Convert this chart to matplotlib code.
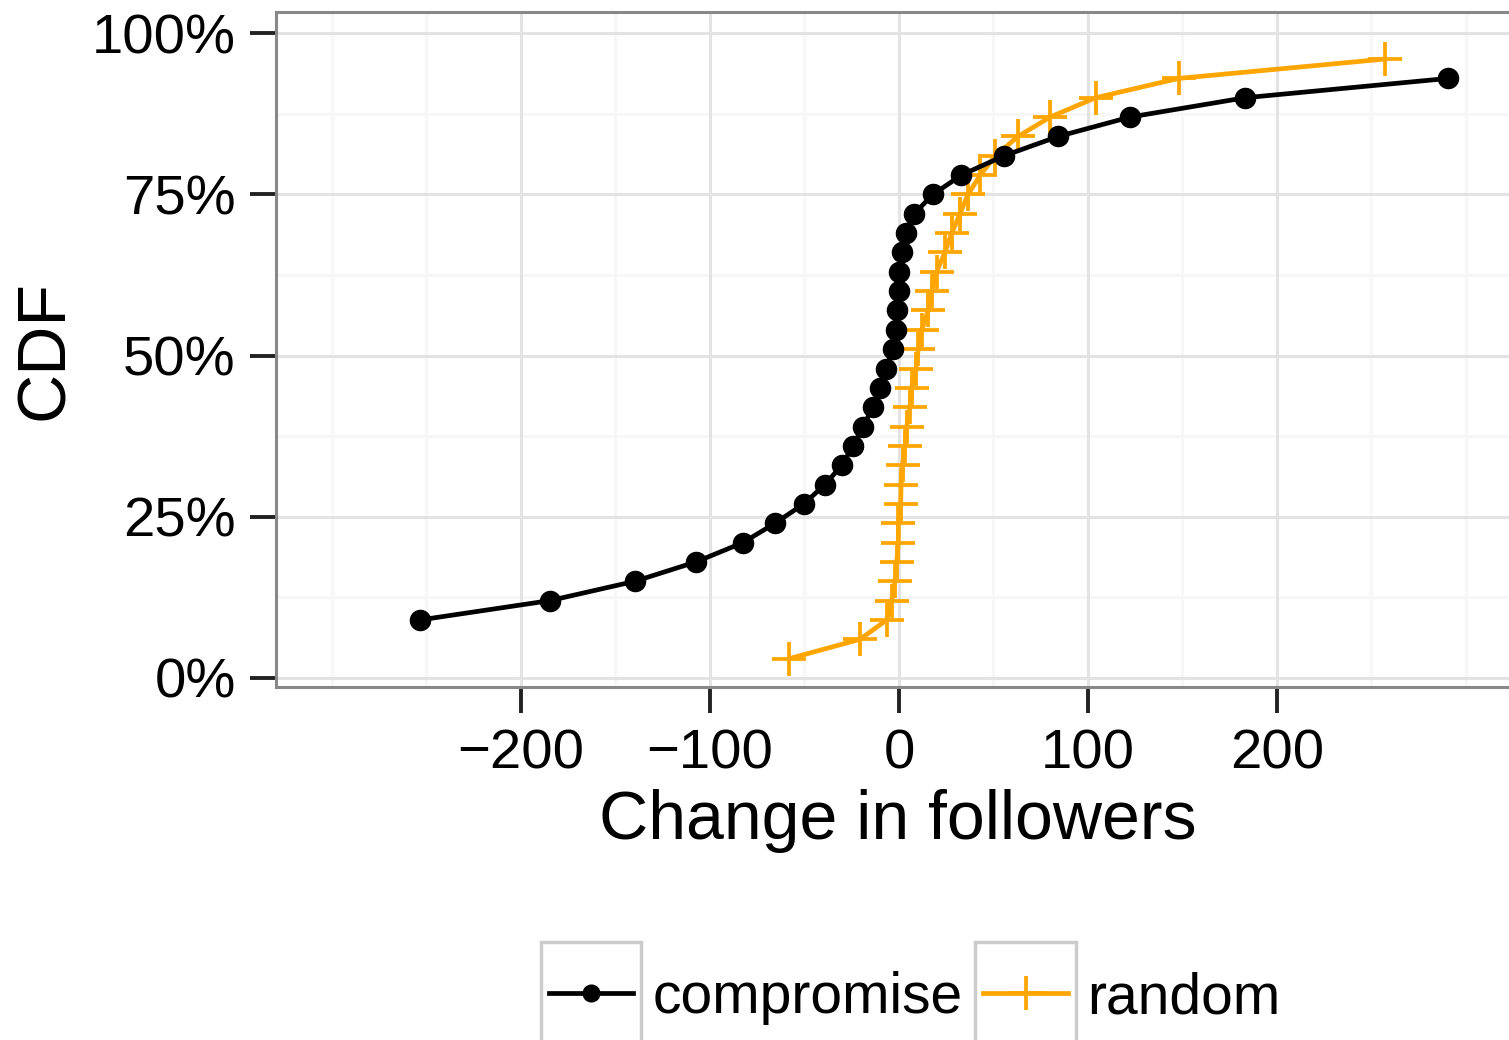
import matplotlib
matplotlib.use("Agg")
import matplotlib.pyplot as plt
from matplotlib.patches import Rectangle
from matplotlib.lines import Line2D
from matplotlib.ticker import FixedLocator, FuncFormatter

plt.rcParams['font.family'] = ['Liberation Sans', 'DejaVu Sans']

# ---- data ----
compromise_x = [-253.4, -184.7, -139.7, -107.4, -82.5, -65.6, -50.3, -39.2, -30.2,
                -24.3, -19.0, -13.8, -10.1, -6.9, -3.2, -1.6, -1.1, 0.0, 0.0, 1.6,
                3.5, 8.0, 18.0, 33.0, 55.6, 84.3, 122.2, 183.1, 290.6]
compromise_y = [0.09, 0.12, 0.15, 0.18, 0.21, 0.24, 0.27, 0.30, 0.33, 0.36, 0.39,
                0.42, 0.45, 0.48, 0.51, 0.54, 0.57, 0.60, 0.63, 0.66, 0.69, 0.72,
                0.75, 0.78, 0.81, 0.84, 0.87, 0.90, 0.93]
random_x = [-58.0, -20.6, -6.5, -3.9, -2.1, -1.2, -0.3, -0.3, 0.9, 1.1, 1.9, 3.2,
            4.1, 5.8, 6.7, 9.0, 10.2, 12.0, 15.5, 17.3, 19.9, 24.3, 27.9, 32.3,
            36.5, 43.0, 51.0, 63.0, 80.0, 104.0, 148.0, 257.0]
random_y = [0.03, 0.06, 0.09, 0.12, 0.15, 0.18, 0.21, 0.24, 0.27, 0.30, 0.33, 0.36,
            0.39, 0.42, 0.45, 0.48, 0.51, 0.54, 0.57, 0.60, 0.63, 0.66, 0.69, 0.72,
            0.75, 0.78, 0.81, 0.84, 0.87, 0.90, 0.93, 0.96]
x_major = [-200, -100, 0, 100, 200]
x_minor = [-300, -250, -150, -50, 50, 150, 250, 300]
y_major = [0.0, 0.25, 0.50, 0.75, 1.0]
y_minor = [0.125, 0.375, 0.625, 0.875]
series_names = ["compromise", "random"]
series_colors = ["black", "#FFA500"]

W, H = 1509, 1040
fig = plt.figure(figsize=(W / 100, H / 100), dpi=100)
fig.patch.set_facecolor("white")

L, R, T, B = 276, 1522.7, 12, 687
ax = fig.add_axes([L / W, 1 - B / H, (R - L) / W, (B - T) / H])
ax.set_xlim(-329.6, 330)
ax.set_ylim(-0.014, 1.033)

# grid
for v in x_minor:
    ax.axvline(v, color="#f7f7f7", lw=2.2, zorder=0)
for v in y_minor:
    ax.axhline(v, color="#f7f7f7", lw=2.2, zorder=0)
for v in x_major:
    ax.axvline(v, color="#e3e3e3", lw=2.2, zorder=0.5)
for v in y_major:
    ax.axhline(v, color="#e3e3e3", lw=2.2, zorder=0.5)

ax.plot(compromise_x, compromise_y, color=series_colors[0], lw=3.4, marker="o",
        markersize=14.5, zorder=3, solid_capstyle="round")
ax.plot(random_x, random_y, color=series_colors[1], lw=3.4, marker="+",
        markersize=25, mew=2.7, zorder=2)

ax.xaxis.set_major_locator(FixedLocator(x_major))
ax.yaxis.set_major_locator(FixedLocator(y_major))
ax.xaxis.set_major_formatter(FuncFormatter(lambda v, p: f"{int(v)}".replace("-", "\u2212")))
ax.yaxis.set_major_formatter(FuncFormatter(lambda v, p: f"{int(round(v * 100))}%"))
ax.tick_params(axis="both", length=19, width=2.8, color="#222222",
               labelsize=40.5, labelcolor="black")
ax.tick_params(axis="y", pad=10)
ax.tick_params(axis="x", pad=11)
for s in ax.spines.values():
    s.set_color("#888888")
    s.set_linewidth(2.2)

fig.text(898 / W, 1 - 821 / H, "Change in followers", fontsize=49,
         ha="center", va="center")
fig.text(45 / W, 1 - 350 / H, "CDF", fontsize=49, rotation=90,
         ha="center", va="center")

# legend (ggplot style keys)
def fx(x):
    return x / W

def fy(y):
    return 1 - y / H

boxes = [(541, 641), (975, 1076)]
labels_x = [653, 1087]
for (x0, x1), name, col, lx, mk in zip(boxes, series_names, series_colors, labels_x, ["o", "+"]):
    fig.add_artist(Rectangle((fx(x0), fy(1042)), (x1 - x0) / W, (1042 - 942) / H,
                             transform=fig.transFigure, facecolor="white",
                             edgecolor="#cccccc", lw=2.5))
    cx = (x0 + x1) / 2
    fig.add_artist(Line2D([fx(x0 + 8), fx(x1 - 8)], [fy(993), fy(993)],
                          transform=fig.transFigure, color=col, lw=3.4))
    if mk == "o":
        fig.add_artist(Line2D([fx(cx)], [fy(993)], transform=fig.transFigure,
                              color=col, marker="o", markersize=12, lw=0))
    else:
        fig.add_artist(Line2D([fx(cx)], [fy(993)], transform=fig.transFigure,
                              color=col, marker="+", markersize=25, mew=2.7, lw=0))
    fig.text(fx(lx), fy(1013), name, fontsize=41, ha="left", va="baseline")

fig.savefig("out.png", dpi=100, facecolor="white")
